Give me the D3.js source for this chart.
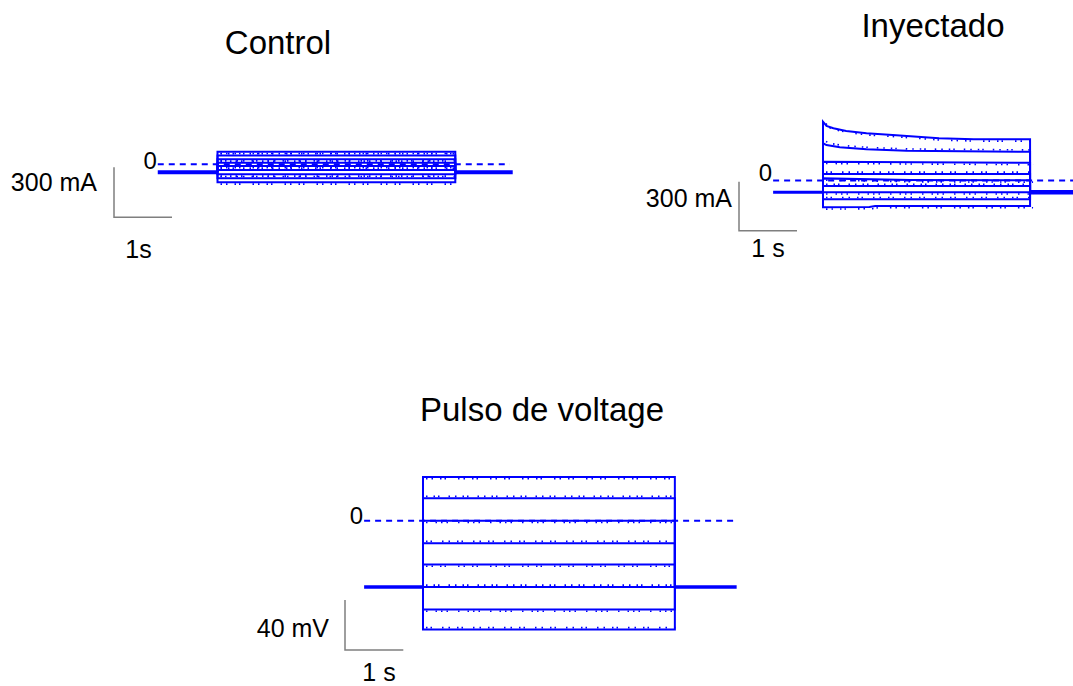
<!DOCTYPE html>
<html>
<head>
<meta charset="utf-8">
<script src="https://cdn.jsdelivr.net/npm/d3@7/dist/d3.min.js"></script>
<style>
  html, body { margin: 0; padding: 0; background: #fff; }
  svg { display: block; font-family: Arial, "Liberation Sans", sans-serif; }
</style>
</head>
<body>
<svg id="chart" width="1073" height="686"></svg>
<script>
// ---- Data -------------------------------------------------------------
// Panel titles
const titles = ["Control", "Inyectado", "Pulso de voltage"];

// Control oocyte: current (mA) during each voltage step, holding current outside the pulse
const controlSteps = [76, 53, 30, 10, -10, -34, -60, -84, -108];
const controlHold = -48;
const controlTimes = [-1.03, 0, 4.1, 5.09];   // pre, pulse on, pulse off, end (s)

// Injected oocyte: current traces (time s, current mA), with decay at the larger steps
const injected1 = [[0, 360], [0.06, 334], [0.18, 320], [0.4, 303], [0.75, 289], [1.2, 279], [2.0, 258], [2.6, 252], [3.57, 252]];
const injected2 = [[0, 228], [0.06, 217], [0.29, 203], [0.75, 191], [1.44, 182], [3.57, 176]];
const injected3 = [[0, 115], [3.57, 108]];
const injected4 = [[0, 40], [3.57, 40]];
const injected5 = [[0, 13], [1.5, 3], [3.57, 1]];
const injected6 = [[0, -34], [3.57, -34]];
const injected7 = [[0, -72], [3.57, -72]];
const injected8 = [[0, -115], [3.57, -115]];
const injected9 = [[0, -164], [0.8, -162], [0.9, -156], [3.57, -156]];
const injectedHold = -72;
const injectedTimes = [-0.86, 0, 3.57, 4.33];

// Voltage protocol: step potentials (mV) and holding potential
const pulseSteps = [35, 18, 0, -18, -35, -53, -71, -87];
const pulseHold = -53;
const pulseTimes = [-1.01, 0, 4.32, 5.38];

// Scale bars
const scaleBars = [
  { yValue: 300, yLabel: "300 mA", xValue: 1, xLabel: "1s" },
  { yValue: 300, yLabel: "300 mA", xValue: 1, xLabel: "1 s" },
  { yValue: 40,  yLabel: "40 mV",  xValue: 1, xLabel: "1 s" }
];

// ---- Drawing ----------------------------------------------------------
const svg = d3.select("#chart");
const BLUE = "#0000ff";
const GREY = "#7f7f7f";

const line = d3.line();

function panel(cfg) {
  const x = d3.scaleLinear().domain([0, 1]).range([cfg.x0, cfg.x0 + cfg.pxPerSec]);
  const y = d3.scaleLinear().domain([0, cfg.unit]).range([cfg.y0, cfg.y0 - cfg.pxPerUnit]);
  const g = svg.append("g");
  const [tPre, tOn, tOff, tEnd] = cfg.times;

  // zero reference (dashed)
  g.append("path")
    .attr("d", line([[x(tPre), y(0)], [x(cfg.dashEnd), y(0)]]))
    .attr("stroke", BLUE).attr("stroke-width", 2)
    .attr("stroke-dasharray", "6,5").attr("fill", "none");

  // traces inside the pulse, with vertical jumps at on/off
  cfg.traces.forEach((tr, i) => {
    const pts = [[tOn, cfg.hold]].concat(tr).concat([[tOff, cfg.hold]]);
    g.append("path")
      .attr("d", line(pts.map(d => [x(d[0]), y(d[1])])))
      .attr("stroke", BLUE).attr("stroke-width", cfg.traceWidth)
      .attr("fill", "none");
    // recording noise fringe along the trace
    g.append("path")
      .attr("d", line(tr.map(d => [x(d[0]) + 3, y(d[1]) - 1.8 * (i % 2 ? 1 : -1)])))
      .attr("stroke", BLUE).attr("stroke-width", 1.6)
      .attr("stroke-dasharray", cfg.noise[i % cfg.noise.length])
      .attr("fill", "none");
  });

  // holding level before and after the pulse
  g.append("path")
    .attr("d", line([[x(tPre), y(cfg.hold)], [x(tOn), y(cfg.hold)]]))
    .attr("stroke", BLUE).attr("stroke-width", cfg.holdWidth[0]).attr("fill", "none");
  g.append("path")
    .attr("d", line([[x(tOff), y(cfg.hold)], [x(tEnd), y(cfg.hold)]]))
    .attr("stroke", BLUE).attr("stroke-width", cfg.holdWidth[1]).attr("fill", "none");

  // "0" label
  g.append("text")
    .attr("x", x(tPre) - 1).attr("y", y(0) + cfg.zeroDy)
    .attr("text-anchor", "end").attr("font-size", 24)
    .text("0");

  // scale bar
  const sb = cfg.bar;
  const bx = sb.x, by = sb.y;
  const len = x(sb.xValue) - x(0);
  const hgt = y(0) - y(sb.yValue);
  g.append("path")
    .attr("d", line([[bx, by - hgt], [bx, by], [bx + len, by]]))
    .attr("stroke", GREY).attr("stroke-width", 1.5).attr("fill", "none");
  g.append("text")
    .attr("x", bx - sb.labelGap).attr("y", by - hgt / 2 + sb.labelDy)
    .attr("text-anchor", "end").attr("font-size", 25)
    .text(sb.yLabel);
  g.append("text")
    .attr("x", bx + sb.xLabelDx).attr("y", by + sb.xLabelDy)
    .attr("text-anchor", "middle").attr("font-size", 25)
    .text(sb.xLabel);

  // title
  g.append("text")
    .attr("x", cfg.titleX).attr("y", cfg.titleY)
    .attr("text-anchor", "middle").attr("font-size", 33)
    .text(cfg.title);
}

const noisePatterns = [
  "1.5,4,1.5,7,1.5,3,1.5,12",
  "1.5,6,1.5,3,1.5,9,1.5,5",
  "1.5,8,1.5,4,1.5,4,1.5,10",
  "1.5,3,1.5,10,1.5,5,1.5,7"
];

panel({
  title: titles[0], titleX: 278, titleY: 54,
  x0: 217.5, pxPerSec: 58, y0: 164.3, unit: 300, pxPerUnit: 50,
  times: controlTimes, dashEnd: 5.04, hold: controlHold,
  traces: controlSteps.map(v => [[0, v], [controlTimes[2], v]]),
  traceWidth: 2, holdWidth: [4, 4], noise: noisePatterns, zeroDy: 5,
  bar: Object.assign({ x: 114, y: 217.3, labelGap: 17, labelDy: -1.5, xLabelDx: 24.5, xLabelDy: 41 }, scaleBars[0])
});

panel({
  title: titles[1], titleX: 933, titleY: 37,
  x0: 823, pxPerSec: 58, y0: 180.5, unit: 300, pxPerUnit: 49,
  times: injectedTimes, dashEnd: 4.33, hold: injectedHold,
  traces: [injected1, injected2, injected3, injected4, injected5, injected6, injected7, injected8, injected9],
  traceWidth: 2, holdWidth: [3, 4.5], noise: noisePatterns, zeroDy: 0,
  bar: Object.assign({ x: 739, y: 230.7, labelGap: 7, labelDy: 1, xLabelDx: 29, xLabelDy: 26 }, scaleBars[1])
});

panel({
  title: titles[2], titleX: 542, titleY: 421,
  x0: 423, pxPerSec: 58.3, y0: 520.7, unit: 40, pxPerUnit: 50,
  times: pulseTimes, dashEnd: 5.33, hold: pulseHold,
  traces: pulseSteps.map(v => [[0, v], [pulseTimes[2], v]]),
  traceWidth: 2, holdWidth: [3.5, 3.5], noise: noisePatterns, zeroDy: 3,
  bar: Object.assign({ x: 345, y: 650, labelGap: 16, labelDy: 12, xLabelDx: 34, xLabelDy: 31 }, scaleBars[2])
});
</script>
</body>
</html>
